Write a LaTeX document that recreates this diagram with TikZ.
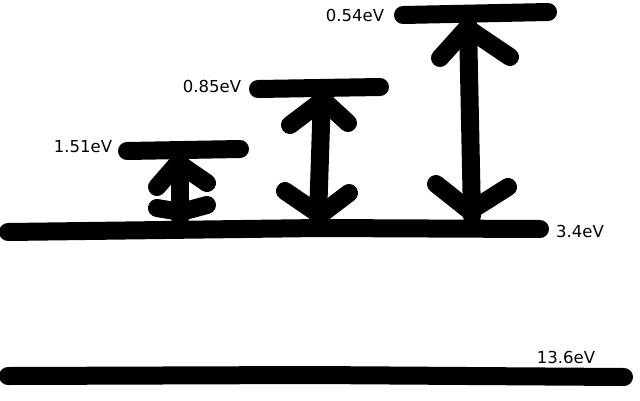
\documentclass[tikz,border=0pt]{standalone}
\usepackage{fontspec}
\setmainfont{DejaVu Sans}
\begin{document}
\begin{tikzpicture}[x=1pt,y=-1pt,line width=18pt,line cap=round,line join=round,
    lbl/.style={font=\fontsize{16.5}{19}\selectfont,inner sep=0pt}]
\useasboundingbox (0,0) rectangle (640,400);
                % levels
                \draw (8,376) -- (313,375) -- (624,377);
                \draw (8,232) -- (320,228) -- (540,229);
                \draw (127,151) -- (240,149);
                \draw (258,89) -- (380,87);
                \draw (403,15) -- (548,12);
                % labels
                \node[lbl] (e136) at (566,357) {13.6eV};
                \node[lbl] (e34) at (580,231) {3.4eV};
                \node[lbl] (e151) at (83,147) {1.51eV};
                \node[lbl] (e085) at (212,86) {0.85eV};
                \node[lbl] (e054) at (355,15) {0.54eV};
                % arrows
                \draw (180,160) -- (180,218);
                \draw (157,187) -- (178,163) -- (207,183);
                \draw (157,208) -- (181,212) -- (207,205);
                \draw (322,95) -- (318,218);
                \draw (290,125) -- (323,100) -- (348,123);
                \draw (285,191) -- (320,215) -- (349,193);
                \draw (468,24) -- (472,216);
                \draw (440,58) -- (467,28) -- (510,57);
                \draw (436,184) -- (470,211) -- (508,187);
            \end{tikzpicture}
\end{document}
